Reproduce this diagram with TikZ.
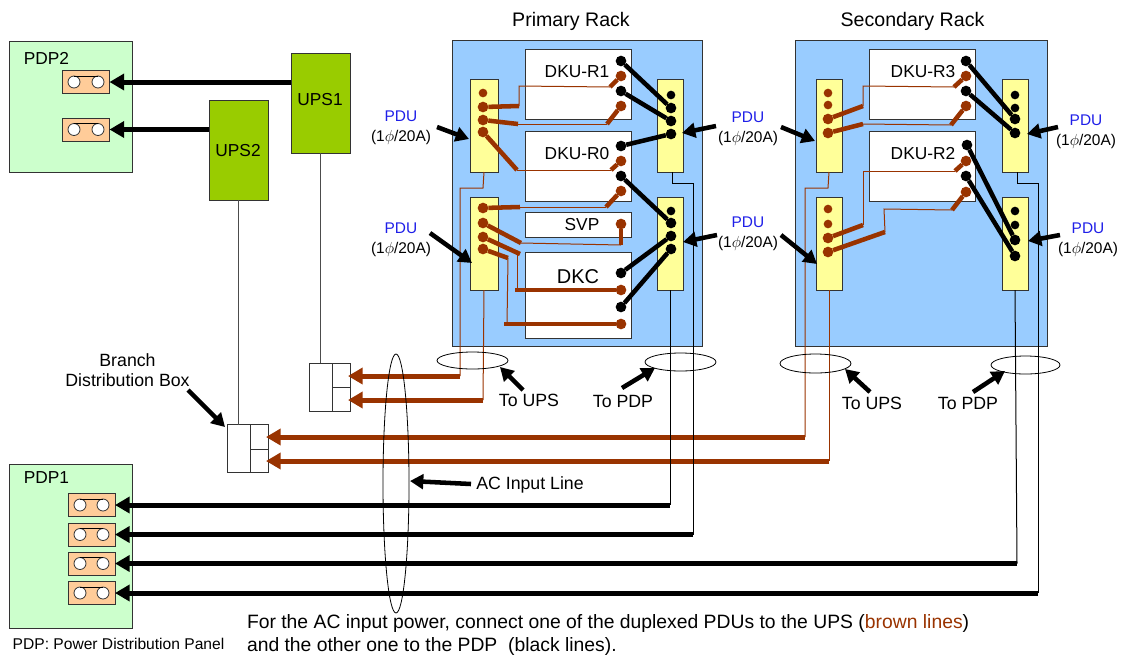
\documentclass[tikz,border=0pt]{standalone}
\usepackage{fontspec}
\setmainfont{Liberation Sans}
\usetikzlibrary{arrows.meta,shapes.geometric}
\definecolor{rackblue}{HTML}{99CCFF}
\definecolor{pdpgreen}{HTML}{CCFFCC}
\definecolor{upsgreen}{HTML}{99CC00}
\definecolor{pduyellow}{HTML}{FFFF99}
\definecolor{outletorange}{HTML}{FFCC99}
\definecolor{wirebrown}{HTML}{993300}
\definecolor{pdublue}{HTML}{1F1FE8}
\begin{document}
\begin{tikzpicture}[
    x=.75pt, y=-.75pt,
    every node/.style={font=\fontsize{13}{15}\selectfont, inner sep=0pt, outer sep=0pt},
    box/.style={draw=black!80, line width=.75pt, rectangle},
    rack/.style={box, fill=rackblue},
    pdp/.style={box, fill=pdpgreen},
    ups/.style={box, fill=upsgreen},
    pdu/.style={box, fill=pduyellow},
    unit/.style={box, fill=white},
    outlet/.style={box, fill=outletorange, minimum width=35.25pt, minimum height=17.25pt},
    hole/.style={draw=black!80, fill=white, circle, line width=.6pt, minimum size=9pt},
    blk/.style={circle, fill=black, minimum size=8pt},
    brn/.style={circle, fill=wirebrown, minimum size=8pt},
    blks/.style={blk, minimum size=6.5pt},
    brns/.style={brn, minimum size=6.5pt},
    cloud/.style={draw, ellipse, line width=.6pt},
    hair/.style={line width=.75pt},
    hairb/.style={line width=.75pt, draw=wirebrown},
    wire/.style={line width=3.4pt},
    wireb/.style={line width=3.4pt, draw=wirebrown},
    feed/.style={line width=3.75pt, -{Triangle[length=11pt, width=12pt]}},
    feedb/.style={feed, draw=wirebrown, fill=wirebrown},
    call/.style={line width=3.4pt, -{Triangle[length=10pt, width=11pt]}},
    rackhead/.style={font=\fontsize{14.7}{15}\selectfont},
    pdulbl/.style={align=center, font=\fontsize{11.6}{15}\selectfont}
]

\useasboundingbox (0,0) rectangle (1131,661);

% PDP panels and UPS
\node[pdp, minimum width=92.25pt, minimum height=98.25pt] (pdp2) at (71,106.5) {};
\node[pdp, minimum width=92.25pt, minimum height=123pt] (pdp1) at (71,546) {};
\node[ups, minimum width=44.25pt, minimum height=75pt] (ups1) at (320.5,103) {};
\node[ups, minimum width=44.25pt, minimum height=75pt] (ups2) at (238.5,150) {};
\node (ups1lbl) at (320,100) {UPS1};
\node (ups2lbl) at (238,151) {UPS2};
\node (pdp2lbl) at (46.5,58) {PDP2};
\node (pdp1lbl) at (46.5,478) {PDP1};

\node[outlet] (oa) at (86,82) {};
\node[outlet] (ob) at (86,129.5) {};
\node[outlet] (oc) at (91.5,505) {};
\node[outlet] (od) at (91.5,534.5) {};
\node[outlet] (oe) at (91.5,563.5) {};
\node[outlet] (of) at (91.5,593) {};
\node[hole] (oa1) at (74,82) {};
\node[hole] (oa2) at (98,82) {};
\node[hole] (ob1) at (74,129.5) {};
\node[hole] (ob2) at (98,129.5) {};
\node[hole] (oc1) at (80,505) {};
\node[hole] (oc2) at (103,505) {};
\node[hole] (od1) at (80,534.5) {};
\node[hole] (od2) at (103,534.5) {};
\node[hole] (oe1) at (80,563.5) {};
\node[hole] (oe2) at (103,563.5) {};
\node[hole] (of1) at (80,593) {};
\node[hole] (of2) at (103,593) {};
\draw[hair] (oa1.north) -- (oa2.north);
\draw[hair] (ob1.north) -- (ob2.north);
\draw[hair] (oc1.north) -- (oc2.north);
\draw[hair] (od1.north) -- (od2.north);
\draw[hair] (oe1.north) -- (oe2.north);
\draw[hair] (of1.north) -- (of2.north);

% racks
\node[rack, minimum width=187.5pt, minimum height=229.5pt] (rackp) at (577,193) {};
\node[rack, minimum width=189pt, minimum height=229.5pt] (racks) at (921,193) {};
\node[rackhead] (rackplbl) at (571,21) {Primary Rack};
\node[rackhead] (rackslbl) at (912.5,21) {Secondary Rack};

\node[unit, minimum width=79.5pt, minimum height=52.5pt] (dkur1) at (578,84) {};
\node[unit, minimum width=79.5pt, minimum height=52.5pt] (dkur0) at (578,166) {};
\node[unit, minimum width=79.5pt, minimum height=18.75pt] (svp) at (578,224.5) {};
\node[unit, minimum width=79.5pt, minimum height=64.5pt] (dkc) at (578,295) {};
\node[unit, minimum width=79.5pt, minimum height=52.5pt] (dkur3) at (922,84) {};
\node[unit, minimum width=79.5pt, minimum height=52.5pt] (dkur2) at (922,166) {};
\node (dkur1lbl) at (577,72) {DKU-R1};
\node (dkur0lbl) at (577,154) {DKU-R0};
\node (svplbl) at (582,225) {SVP};
\node[font=\fontsize{15}{15}\selectfont] (dkclbl) at (578,277) {DKC};
\node (dkur3lbl) at (923,72) {DKU-R3};
\node (dkur2lbl) at (923,154) {DKU-R2};

\node[pdu, minimum width=21pt, minimum height=69.75pt] (plu) at (484,125.5) {};
\node[pdu, minimum width=21pt, minimum height=69.75pt] (pll) at (484,243.5) {};
\node[pdu, minimum width=19.5pt, minimum height=69.75pt] (pru) at (670,125.5) {};
\node[pdu, minimum width=19.5pt, minimum height=69.75pt] (prl) at (670,243.5) {};
\node[pdu, minimum width=19.5pt, minimum height=69.75pt] (slu) at (829,125.5) {};
\node[pdu, minimum width=19.5pt, minimum height=69.75pt] (sll) at (829,243.5) {};
\node[pdu, minimum width=19.5pt, minimum height=69.75pt] (sru) at (1015,125.5) {};
\node[pdu, minimum width=19.5pt, minimum height=69.75pt] (srl) at (1015,243.5) {};

% pins on the units
\node[blk] (r1a) at (621,61) {};
\node[brn] (r1b) at (621,76) {};
\node[blk] (r1c) at (621,91) {};
\node[brn] (r1d) at (621,106) {};
\node[blk] (r0a) at (621,146) {};
\node[brn] (r0b) at (621,161) {};
\node[blk] (r0c) at (621,176) {};
\node[brn] (r0d) at (621,191) {};
\node[brn] (svpa) at (621,224) {};
\node[blk] (dkca) at (621,273) {};
\node[brn] (dkcb) at (621,290) {};
\node[blk] (dkcc) at (621,307) {};
\node[brn] (dkcd) at (621,324) {};
\node[blk] (r3a) at (966,61) {};
\node[brn] (r3b) at (966,76) {};
\node[blk] (r3c) at (966,91) {};
\node[brn] (r3d) at (966,106) {};
\node[blk] (r2a) at (967,145) {};
\node[brn] (r2b) at (966,161) {};
\node[blk] (r2c) at (966,176) {};
\node[brn] (r2d) at (966,192) {};

% pins on the PDUs
\node[brns] (plu1) at (483,93) {};
\node[brn] (plu2) at (483,107) {};
\node[brn] (plu3) at (483,120) {};
\node[brn] (plu4) at (483,132) {};
\node[brn] (pll1) at (483,208) {};
\node[brn] (pll2) at (483,223) {};
\node[brn] (pll3) at (483,237) {};
\node[brn] (pll4) at (483,249) {};
\node[blks] (pru1) at (671,95) {};
\node[blk] (pru2) at (671,108) {};
\node[blk] (pru3) at (671,121) {};
\node[blk] (pru4) at (671,134) {};
\node[blks] (prl1) at (671,211) {};
\node[blk] (prl2) at (671,223) {};
\node[blk] (prl3) at (671,236) {};
\node[blk] (prl4) at (671,249) {};
\node[brns] (slu1) at (828,93) {};
\node[brns] (slu2) at (828,105) {};
\node[brn] (slu3) at (828,119) {};
\node[brn] (slu4) at (828,133) {};
\node[brns] (sll1) at (828,209) {};
\node[brns] (sll2) at (828,224) {};
\node[brn] (sll3) at (828,238) {};
\node[brn] (sll4) at (828,252) {};
\node[blks] (sru1) at (1015,95) {};
\node[blks] (sru2) at (1015,108) {};
\node[blk] (sru3) at (1015,119) {};
\node[blk] (sru4) at (1015,133) {};
\node[blks] (srl1) at (1015,211) {};
\node[blks] (srl2) at (1015,225) {};
\node[blk] (srl3) at (1015,240) {};
\node[blk] (srl4) at (1015,256) {};

% black wires inside the racks
\draw[wire] (r1a) -- (pru2);
\draw[wire] (r1c) -- (pru3);
\draw[wire] (r0a) -- (pru4);
\draw[wire] (r0c) -- (prl2);
\draw[wire] (dkca) -- (prl3);
\draw[wire] (dkcc) -- (prl4);
\draw[wire] (r3a) -- (sru3);
\draw[wire] (r3c) -- (sru4);
\draw[wire] (r2a) -- (srl3);
\draw[wire] (r2c) -- (srl4);

% brown wires, primary rack
\coordinate (wa1) at (519,106);
\coordinate (wa2) at (519,86);
\coordinate (wa3) at (610,87);
\draw[wireb] (plu2) -- (wa1);
\draw[hairb] (wa1) -- (wa2) -- (wa3);
\draw[wireb] (wa3) -- (r1b);
\coordinate (wb1) at (518,124);
\coordinate (wb2) at (607,124);
\draw[wireb] (plu3) -- (wb1);
\draw[hairb] (wb1) -- (wb2);
\draw[wireb] (wb2) -- (r1d);
\coordinate (wc1) at (517,170);
\coordinate (wc2) at (611,170);
\draw[wireb] (plu4) -- (wc1);
\draw[hairb] (wc1) -- (wc2);
\draw[wireb] (wc2) -- (r0b);
\coordinate (wd1) at (520,207);
\coordinate (wd2) at (606,207);
\draw[wireb] (pll1) -- (wd1);
\draw[hairb] (wd1) -- (wd2);
\draw[wireb] (wd2) -- (r0d);
\coordinate (we1) at (521,243);
\coordinate (we2) at (621,245);
\draw[wireb] (pll2) -- (we1);
\draw[hairb] (we1) -- (we2);
\draw[wireb] (we2) -- (svpa);
\coordinate (wf1) at (520,254);
\coordinate (wf2) at (517,254);
\coordinate (wf3) at (517,290);
\coordinate (wf4) at (515,290);
\draw[wireb] (pll3) -- (wf1);
\draw[hairb] (wf2) -- (wf3);
\draw[wireb] (wf4) -- (dkcb);
\coordinate (wg1) at (508,258);
\coordinate (wg2) at (507,324);
\coordinate (wg3) at (504,324);
\draw[wireb] (pll4) -- (wg1);
\draw[hairb] (wg1) -- (wg2);
\draw[wireb] (wg3) -- (dkcd);

% brown wires, secondary rack
\coordinate (xa1) at (863,106);
\coordinate (xa2) at (863,86);
\coordinate (xa3) at (954,87);
\draw[wireb] (slu3) -- (xa1);
\draw[hairb] (xa1) -- (xa2) -- (xa3);
\draw[wireb] (xa3) -- (r3b);
\coordinate (xb1) at (863,124);
\coordinate (xb2) at (951,125);
\draw[wireb] (slu4) -- (xb1);
\draw[hairb] (xb1) -- (xb2);
\draw[wireb] (xb2) -- (r3d);
\coordinate (xc1) at (863,225);
\coordinate (xc2) at (863,171);
\coordinate (xc3) at (955,171);
\draw[wireb] (sll3) -- (xc1);
\draw[hairb] (xc1) -- (xc2) -- (xc3);
\draw[wireb] (xc3) -- (r2b);
\coordinate (xd1) at (885,232);
\coordinate (xd2) at (884,209);
\coordinate (xd3) at (952,210);
\draw[wireb] (sll4) -- (xd1);
\draw[hairb] (xd1) -- (xd2) -- (xd3);
\draw[wireb] (xd3) -- (r2d);

% branch boxes
\node[box, minimum width=30.75pt, minimum height=36pt] (bxa) at (329.5,387) {};
\node[box, minimum width=30.75pt, minimum height=36pt] (bxb) at (247.5,448.5) {};
\coordinate (bxa1) at (332,363);
\coordinate (bxa2) at (332,411);
\coordinate (bxa3) at (332,387);
\coordinate (bxb1) at (250,425);
\coordinate (bxb2) at (250,472);
\coordinate (bxb3) at (250,449);
\draw[hair, draw=black!80] (bxa1) -- (bxa2);
\draw[hair, draw=black!80] (bxa3) -- (bxa3 -| bxa.east);
\draw[hair, draw=black!80] (bxb1) -- (bxb2);
\draw[hair, draw=black!80] (bxb3) -- (bxb3 -| bxb.east);
\draw[hair, draw=black!70] (ups1.south) -- (ups1.south |- bxa.north);
\draw[hair, draw=black!70] (ups2.south) -- (ups2.south |- bxb.north);

% feeds to the UPS side
\coordinate (ta) at (348,376);
\coordinate (tb) at (348,400);
\coordinate (tc) at (266,437);
\coordinate (td) at (266,461);
\coordinate (ua1) at (483,188);
\coordinate (ua2) at (460,188);
\coordinate (ua3) at (460,376);
\coordinate (ub1) at (483,400);
\coordinate (uc1) at (828,188);
\coordinate (uc2) at (805,188);
\coordinate (uc3) at (805,437);
\coordinate (ud1) at (829,461);
\draw[hairb] (plu.south) -- (ua1) -- (ua2) -- (ua3);
\draw[hairb] (pll.south) -- (ub1);
\draw[hairb] (slu.south) -- (uc1) -- (uc2) -- (uc3);
\draw[hairb] (sll.south) -- (ud1);
\draw[feedb] (ua3) -- (ta);
\draw[feedb] (ub1) -- (tb);
\draw[feedb] (uc3) -- (tc);
\draw[feedb] (ud1) -- (td);

% feeds to the PDP side
\coordinate (ja1) at (672,183);
\coordinate (ja2) at (693,183);
\coordinate (ja3) at (693,534.5);
\coordinate (jb1) at (1017,183);
\coordinate (jb2) at (1038,183);
\coordinate (jb3) at (1038,593);
\coordinate (jc1) at (670,505);
\coordinate (jd1) at (1017,563.5);
\draw[hair] (ja1 |- pru.south) -- (ja1) -- (ja2) -- (ja3);
\draw[hair] (jb1 |- sru.south) -- (jb1) -- (jb2) -- (jb3);
\draw[hair] (prl.south) -- (jc1);
\draw[hair] (srl.south) -- (jd1);
\draw[feed] (ups1.west |- oa.east) -- (oa.east);
\draw[feed] (ups2.west |- ob.east) -- (ob.east);
\draw[feed] (jc1) -- (oc.east);
\draw[feed] (ja3) -- (od.east);
\draw[feed] (jd1) -- (oe.east);
\draw[feed] (jb3) -- (of.east);

% cable bundles
\node[cloud, minimum width=53.25pt, minimum height=12.75pt] (upsp) at (472.5,360.5) {};
\node[cloud, minimum width=53.25pt, minimum height=13.5pt] (pdpp) at (680.5,362) {};
\node[cloud, minimum width=53.25pt, minimum height=14.25pt] (upss) at (815.5,363.5) {};
\node[cloud, minimum width=51.75pt, minimum height=13.5pt] (pdps) at (1025.5,365) {};
\node[cloud, minimum width=19.5pt, minimum height=194.25pt] (acin) at (396,483.5) {};

% labels and their arrows
\node[pdulbl] (pduA) at (401,128) {\textcolor{pdublue}{PDU}\\(1$\phi$/20A)};
\node[pdulbl] (pduB) at (401,240) {\textcolor{pdublue}{PDU}\\(1$\phi$/20A)};
\node[pdulbl] (pduC) at (748,128.5) {\textcolor{pdublue}{PDU}\\(1$\phi$/20A)};
\node[pdulbl] (pduD) at (748,234) {\textcolor{pdublue}{PDU}\\(1$\phi$/20A)};
\node[pdulbl] (pduE) at (1086,131.5) {\textcolor{pdublue}{PDU}\\(1$\phi$/20A)};
\node[pdulbl] (pduF) at (1088,239.5) {\textcolor{pdublue}{PDU}\\(1$\phi$/20A)};
\node[font=\fontsize{13.3}{15}\selectfont] (toupsp) at (529,400) {To UPS};
\node[font=\fontsize{13.3}{15}\selectfont] (topdpp) at (623,401) {To PDP};
\node[font=\fontsize{13.3}{15}\selectfont] (toupss) at (872,403) {To UPS};
\node[font=\fontsize{13.3}{15}\selectfont] (topdps) at (968,403) {To PDP};
\node[font=\fontsize{13.3}{15}\selectfont] (aclbl) at (530,485) {AC Input Line};
\node[align=center, font=\fontsize{13.3}{15.5}\selectfont] (branch) at (127.5,370) {Branch\\Distribution Box};
\node[font=\fontsize{11.7}{13}\selectfont] (pdpnote) at (118.5,644) {PDP: Power Distribution Panel};
\node[anchor=west, align=left, font=\fontsize{14.5}{17.25}\selectfont] (note) at (247,635) {For the AC input power, connect one of the duplexed PDUs to the UPS (\textcolor{wirebrown}{brown lines})\\and the other one to the PDP\ \ (black lines).};

\coordinate (aa) at (437,127);
\coordinate (ab) at (469,139);
\coordinate (ac) at (430,233);
\coordinate (ad) at (472,263);
\coordinate (ae) at (716,126);
\coordinate (af) at (682,133);
\coordinate (ag) at (717,235);
\coordinate (ah) at (683,242);
\coordinate (ai) at (781,127);
\coordinate (aj) at (815,141);
\coordinate (ak) at (781,235);
\coordinate (al) at (817,264);
\coordinate (am) at (1058,127);
\coordinate (an) at (1027,134);
\coordinate (ao) at (1060,235);
\coordinate (ap) at (1028,241);
\draw[call] (aa) -- (ab);
\draw[call] (ac) -- (ad);
\draw[call] (ae) -- (af);
\draw[call] (ag) -- (ah);
\draw[call] (ai) -- (aj);
\draw[call] (ak) -- (al);
\draw[call] (am) -- (an);
\draw[call] (ao) -- (ap);

\coordinate (ba) at (523,390);
\coordinate (bb) at (500,367);
\coordinate (bc) at (622,388);
\coordinate (bd) at (655,368);
\coordinate (be) at (870,392);
\coordinate (bf) at (845,369);
\coordinate (bg) at (973,392);
\coordinate (bh) at (1005,371);
\coordinate (bi) at (471,484);
\coordinate (bj) at (410,481);
\coordinate (bk) at (188,390);
\coordinate (bl) at (225,427);
\draw[call] (ba) -- (bb);
\draw[call] (bc) -- (bd);
\draw[call] (be) -- (bf);
\draw[call] (bg) -- (bh);
\draw[call] (bi) -- (bj);
\draw[call] (bk) -- (bl);
\end{tikzpicture}
\end{document}
